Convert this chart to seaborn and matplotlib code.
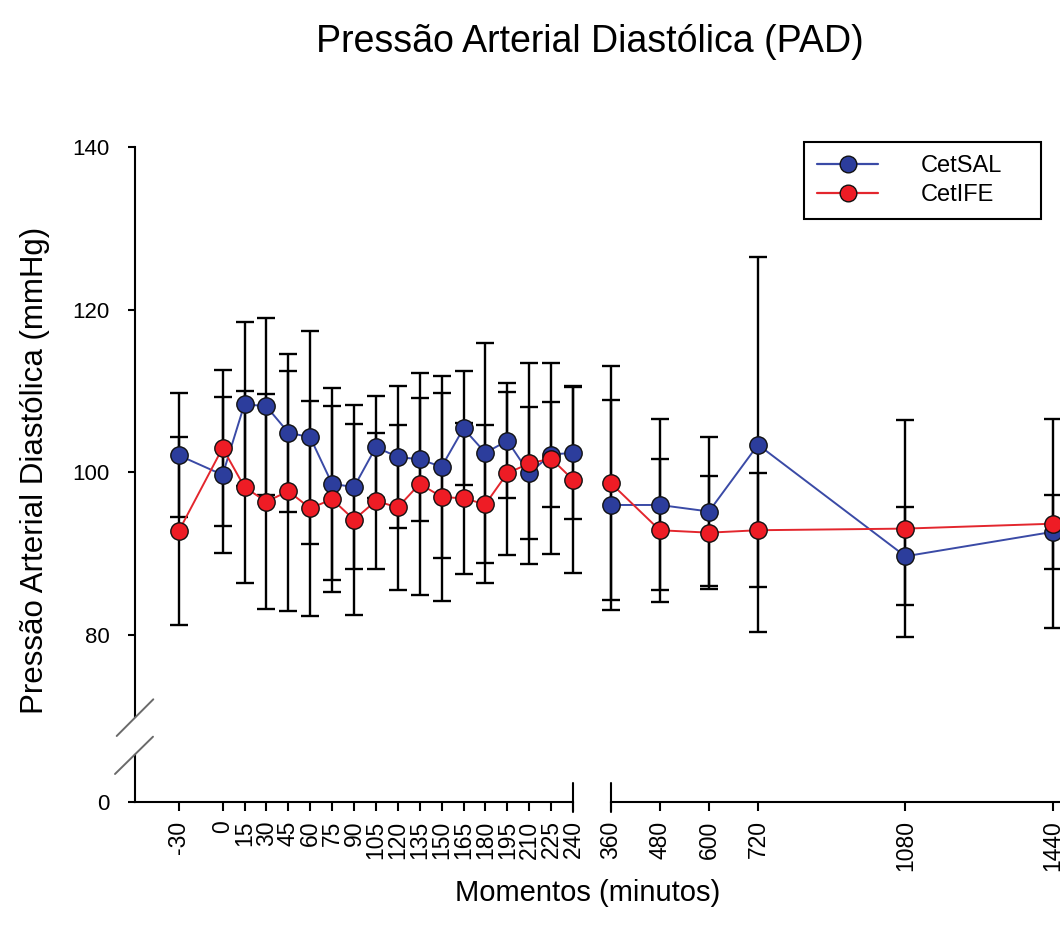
import numpy as np
import pandas as pd
import matplotlib
matplotlib.use("Agg")
import matplotlib.pyplot as plt
import seaborn as sns
from matplotlib.lines import Line2D

# ---------------- data ----------------
times_early = [-30, 0, 15, 30, 45, 60, 75, 90, 105, 120, 135, 150, 165, 180, 195, 210, 225, 240]
times_late = [360, 480, 600, 720, 1080, 1440]
labels_early = ["-30", "0", "15", "30", "45", "60", "75", "90", "105", "120", "135",
                "150", "165", "180", "195", "210", "225", "240"]
labels_late = ["360", "480", "600", "720", "1080", "1440"]

groups = ["CetSAL", "CetIFE"]

sal_mean = [102.1, 99.7, 108.4, 108.1, 104.9, 104.3, 98.6, 98.2, 103.1, 101.9, 101.6,
            100.7, 105.4, 102.4, 103.9, 99.9, 102.2, 102.4,
            96.0, 96.0, 95.2, 103.4, 89.7, 92.7]
sal_sd = [7.6, 9.6, 10.1, 10.9, 9.7, 13.1, 11.8, 10.1, 6.3, 8.7, 7.6,
          11.2, 7.0, 13.5, 7.1, 8.1, 6.4, 8.1,
          12.9, 10.5, 9.2, 23.0, 6.0, 4.5]
ife_mean = [92.8, 103.0, 98.2, 96.4, 97.7, 95.6, 96.7, 94.2, 96.5, 95.7, 98.6,
            97.0, 96.8, 96.1, 99.9, 101.1, 101.7, 99.1,
            98.7, 92.9, 92.6, 92.9, 93.1, 93.7]
ife_sd = [11.5, 9.6, 11.8, 13.2, 14.7, 13.2, 11.4, 11.7, 8.3, 10.1, 13.6,
          12.8, 9.3, 9.7, 10.0, 12.3, 11.7, 11.5,
          14.4, 8.8, 6.9, 7.0, 13.3, 12.8]

y_ticks_upper = [80, 100, 120, 140]
y_ticks_lower = [0]

# ---------------- frame ----------------
all_times = times_early + times_late
df = pd.concat([
    pd.DataFrame({"time": all_times, "value": sal_mean, "sd": sal_sd, "group": groups[0]}),
    pd.DataFrame({"time": all_times, "value": ife_mean, "sd": ife_sd, "group": groups[1]}),
], ignore_index=True)
df["segment"] = np.where(df["time"] <= max(times_early), "early", "late")

sns.set_style("white")
plt.rcParams["font.family"] = ["Liberation Sans", "DejaVu Sans"]
plt.rcParams["text.color"] = "black"
plt.rcParams["axes.labelcolor"] = "black"
plt.rcParams["xtick.color"] = "black"
plt.rcParams["ytick.color"] = "black"

line_colors = {"CetSAL": "#3a4aa6", "CetIFE": "#e3262d"}
face_colors = {"CetSAL": "#2c3d9c", "CetIFE": "#ee1c25"}

W, H = 1060, 939
fig = plt.figure(figsize=(W / 100, H / 100), dpi=100)
fig.patch.set_facecolor("white")


def rect(x0, x1, ytop, ybot):
    return [x0 / W, 1 - ybot / H, (x1 - x0) / W, (ybot - ytop) / H]


ax_tl = fig.add_axes(rect(135, 573, 146.7, 716.7))
ax_tr = fig.add_axes(rect(610.7, 1100, 146.7, 716.7))
ax_bl = fig.add_axes(rect(135, 573, 755, 801.7))
ax_br = fig.add_axes(rect(610.7, 1100, 755, 801.7))

for ax in (ax_tl, ax_tr, ax_bl, ax_br):
    ax.set_facecolor("none")
    for s in ax.spines.values():
        s.set_visible(False)
        s.set_linewidth(1.5)
        s.set_color("black")

xlim_early = (-60, 240)
xlim_late = (360, 360 + (1100 - 610.7) / ((1052.7 - 610.7) / 1080))
ylim_upper = (70, 140)
ylim_lower = (0, 46.7 / (488.3 / 60))

for ax, seg, xl in ((ax_tl, "early", xlim_early), (ax_tr, "late", xlim_late)):
    sub = df[df["segment"] == seg]
    for g in groups:
        d = sub[sub["group"] == g]
        ax.errorbar(d["time"], d["value"], yerr=d["sd"], fmt="none", ecolor="black",
                    elinewidth=1.7, capsize=6.5, capthick=1.7, zorder=2, clip_on=False)
    for g in groups:
        d = sub[sub["group"] == g]
        sns.lineplot(data=d, x="time", y="value", ax=ax, color=line_colors[g],
                     linewidth=1.4, marker="o", markersize=12.5,
                     markerfacecolor=face_colors[g], markeredgecolor="#111111",
                     markeredgewidth=1.0, errorbar=None, legend=False,
                     clip_on=False, zorder=3)
    ax.set_xlim(*xl)
    ax.set_ylim(*ylim_upper)
    ax.set_xlabel("")
    ax.set_ylabel("")

# upper-left: only the y axis
ax_tl.spines["left"].set_visible(True)
ax_tl.set_yticks(y_ticks_upper)
ax_tl.set_xticks([])
ax_tl.tick_params(axis="y", which="major", direction="out", length=5, width=1.5,
                  labelsize=16, pad=13, left=True, color="black")
ax_tr.set_xticks([])
ax_tr.set_yticks([])

# lower axes: x axis + the 0 tick
ax_bl.set_xlim(*xlim_early)
ax_bl.set_ylim(*ylim_lower)
ax_bl.spines["left"].set_visible(True)
ax_bl.spines["bottom"].set_visible(True)
ax_bl.set_yticks(y_ticks_lower)
ax_bl.set_xticks(times_early, labels_early)
ax_bl.tick_params(axis="y", direction="out", length=5, width=1.5, labelsize=16, pad=13,
                  left=True)
ax_bl.tick_params(axis="x", direction="out", length=6.5, width=1.5, labelsize=16.5,
                  pad=7, labelrotation=90, bottom=True)

ax_br.set_xlim(*xlim_late)
ax_br.set_ylim(*ylim_lower)
ax_br.spines["bottom"].set_visible(True)
ax_br.set_yticks([])
ax_br.set_xticks(times_late, labels_late)
ax_br.tick_params(axis="x", direction="out", length=6.5, width=1.5, labelsize=16.5,
                  pad=7, labelrotation=90, bottom=True)

# axis-break decorations
for ax, xpos in ((ax_bl, 1.0), (ax_br, 0.0)):
    ax.add_line(Line2D([xpos, xpos], [0.4, -0.22], transform=ax.transAxes,
                       color="black", linewidth=1.5, clip_on=False))
for (xa, ya, xb, yb) in ((116.7, 736, 153.3, 699.3), (115, 774, 153, 736.7)):
    fig.add_artist(Line2D([xa / W, xb / W], [1 - ya / H, 1 - yb / H],
                          transform=fig.transFigure, color="#6a6a6a", linewidth=1.4))

# texts
fig.text(590 / W, 1 - 42 / H, "Pressão Arterial Diastólica (PAD)", ha="center",
         va="center", fontsize=27)
fig.text(35 / W, 1 - 470 / H, "Pressão Arterial Diastólica (mmHg)", ha="center",
         va="center", rotation=90, fontsize=22.5)
fig.text(588 / W, 1 - 893 / H, "Momentos (minutos)", ha="center", va="center",
         fontsize=21)

# legend
handles = [Line2D([], [], color=line_colors[g], linewidth=1.6, marker="o", markersize=12,
                  markerfacecolor=face_colors[g], markeredgecolor="#111111",
                  markeredgewidth=1.0) for g in groups]
leg = fig.legend(handles, groups, loc="upper left",
                 bbox_to_anchor=(804 / W, 1 - 143 / H, (1041 - 804) / W, 0.001),
                 mode="expand", fontsize=17, frameon=True, fancybox=False,
                 edgecolor="black", framealpha=1, borderpad=0.55, labelspacing=0.3,
                 handlelength=2.6, handletextpad=1.8, borderaxespad=0)
leg.get_frame().set_linewidth(1.5)

fig.savefig("out.png", dpi=100)
